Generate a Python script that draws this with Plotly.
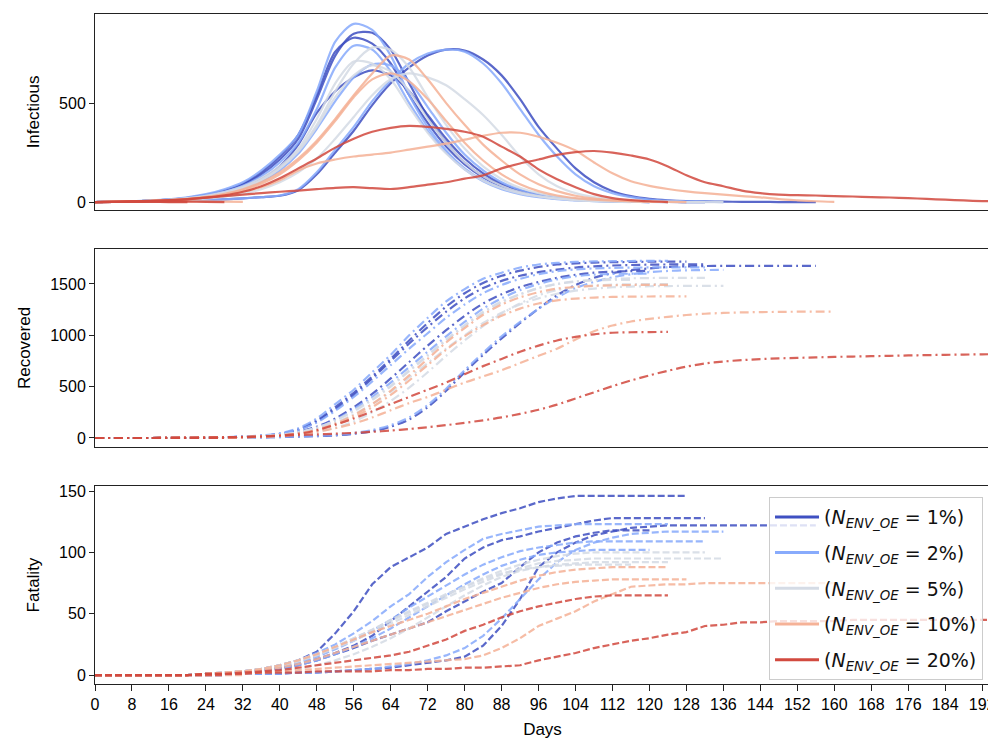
import plotly.graph_objects as go

# ---------------- data ----------------
DAYS = list(range(0, 201, 4))          # sample days, every 4 days
LEVELS = ["1%", "2%", "5%", "10%", "20%"]
COLORS = ["#3f50c2", "#88abfc", "#d5dbe5", "#f5b297", "#d24a3f"]
X_TICKS = list(range(0, 193, 8))

# ---- Infectious ----
INF_1A = [0,2,4,7,12,20,34,55,88,140,215,320,520,740,850,855,770,600,430,300,200,130,85,55,35,22,14,9,5,3,2,1,0]
INF_1B = [0,2,4,7,12,21,36,58,92,150,230,340,540,760,830,800,700,540,400,280,190,125,80,50,32,20,12,7,4,2,1,1,0,0]
INF_1C = [0,1,2,3,5,7,10,14,19,25,32,60,140,250,360,490,600,680,740,770,765,720,640,520,380,270,170,100,55,30,16,9,5,3,2,1,1,0,0,0]
INF_1D = [0,2,3,6,10,17,28,45,72,115,180,290,450,560,630,665,640,560,440,320,220,145,92,58,36,22,13,7,4,2,0]
INF_2A = [0,2,4,8,14,24,40,65,100,160,240,340,560,810,900,870,740,540,380,260,170,110,70,45,28,17,10,6,4,2,1,0]
INF_2B = [0,2,4,7,12,20,33,52,82,130,200,300,470,680,790,770,660,500,360,250,165,105,65,40,25,15,9,5,3,2,1,1,0,0]
INF_2C = [0,1,2,3,5,7,10,14,19,25,33,65,150,265,380,510,615,700,750,770,760,700,600,470,340,230,140,80,45,25,13,7,4,2,0]
INF_2D = [0,2,3,6,10,16,26,42,66,105,160,245,370,510,630,695,690,610,480,350,240,160,100,62,38,23,14,8,4,2,0]
INF_5A = [0,2,3,6,10,16,27,44,70,110,170,260,390,560,700,780,770,680,530,390,270,180,115,72,45,28,17,10,6,3,2,1,0,0]
INF_5B = [0,2,4,7,12,20,32,50,78,120,180,270,420,600,710,700,620,480,350,245,165,108,70,44,28,17,10,6,4,2,1,1,0,0,0]
INF_5C = [0,1,2,4,7,11,17,27,42,65,100,150,220,320,430,540,620,650,630,590,520,440,340,230,140,80,45,25,13,7,3,0]
INF_5D = [0,2,3,6,10,17,28,45,72,112,170,255,380,530,640,690,660,560,420,300,200,130,82,50,30,18,10,5,2,0]
INF_10A = [0,2,4,6,10,16,26,42,65,100,150,220,310,420,540,650,740,720,620,500,390,290,210,140,90,55,32,18,10,5,2,0]
INF_10B = [0,2,3,6,9,15,24,38,60,92,140,210,300,410,530,620,650,610,520,410,300,210,140,90,55,33,20,12,7,4,2,1,0]
INF_10C = [0,1,3,5,9,15,24,36,52,75,110,160,195,215,230,240,250,265,280,295,315,335,350,350,330,300,260,200,145,105,82,66,54,45,38,30,24,15,9,4,1]
INF_10D = [0,1,2,3,3,4,3,2,1]
INF_20A = [0,1,3,5,9,14,22,34,52,80,120,170,220,275,320,355,375,385,380,370,355,330,280,230,165,115,75,40,20,10,4,0]
INF_20B = [0,1,2,3,2,2,1,0]
INF_20C = [0,1,3,6,10,15,22,30,38,45,52,58,65,72,75,70,66,75,88,100,118,135,170,195,215,238,252,258,250,235,215,180,135,100,80,58,45,38,35,33,30,28,25,23,20,16,12,8,5,3,2]
INF_20D = [0,1,1,1,0,0]

# ---- Recovered ----
REC_1A = [0,0,0,0,1,2,4,7,12,22,40,85,170,300,440,600,770,950,1120,1280,1410,1510,1580,1630,1665,1690,1700,1708,1712,1715,1717,1718,1718]
REC_1B = [0,0,0,0,1,2,4,7,12,22,40,80,160,280,420,580,750,920,1080,1230,1360,1460,1530,1580,1615,1640,1660,1672,1680,1685,1688,1690,1690,1690]
REC_1C = [0,0,0,0,0,1,2,3,4,6,9,13,18,25,40,65,110,180,300,460,640,810,970,1120,1260,1390,1490,1560,1605,1635,1652,1665,1672,1675,1677,1677,1677,1677,1677,1677]
REC_1D = [0,0,0,0,1,2,3,6,10,18,32,60,110,190,300,430,580,740,900,1050,1190,1310,1400,1470,1520,1560,1590,1610,1620,1625,1628]
REC_2A = [0,0,0,0,1,2,4,8,14,25,45,95,190,330,470,640,810,1000,1170,1330,1450,1550,1610,1660,1690,1705,1715,1720,1722,1724,1725,1725]
REC_2B = [0,0,0,0,1,2,4,7,12,21,38,75,150,265,400,550,710,870,1020,1170,1300,1410,1490,1550,1595,1625,1642,1652,1657,1660,1661,1662,1662,1662]
REC_2C = [0,0,0,0,0,1,2,3,4,6,10,14,20,30,48,78,125,200,320,480,660,830,990,1130,1260,1370,1460,1520,1565,1595,1615,1627,1633,1636,1637]
REC_2D = [0,0,0,0,1,2,3,6,10,17,30,55,100,175,280,400,540,690,840,990,1130,1260,1360,1440,1500,1545,1575,1590,1598,1600,1600]
REC_5A = [0,0,0,0,1,2,3,6,10,17,30,55,100,170,265,380,510,660,810,960,1100,1230,1330,1400,1460,1500,1525,1540,1550,1555,1558,1560,1560,1560]
REC_5B = [0,0,0,0,1,2,3,6,10,16,28,50,90,150,230,330,450,590,730,870,1000,1120,1220,1300,1360,1405,1435,1455,1468,1475,1478,1480,1481,1481,1481]
REC_5C = [0,0,0,0,0,1,2,4,7,12,20,35,60,100,160,250,360,490,640,800,950,1090,1210,1310,1390,1440,1470,1485,1493,1497,1499,1500]
REC_5D = [0,0,0,0,1,2,3,6,10,17,30,56,100,170,260,370,500,650,800,950,1090,1220,1320,1400,1460,1500,1522,1535,1540,1540]
REC_10A = [0,0,0,0,1,2,3,5,8,14,24,44,80,140,220,330,460,610,770,930,1070,1200,1300,1370,1420,1455,1472,1482,1487,1490,1491,1491]
REC_10B = [0,0,0,0,1,2,3,5,8,13,22,40,72,125,200,300,420,560,710,860,990,1100,1190,1260,1310,1340,1358,1368,1374,1377,1378,1379,1379]
REC_10C = [0,0,0,0,0,1,2,4,7,12,20,35,60,95,140,200,270,340,400,470,540,600,660,730,800,870,960,1040,1095,1135,1160,1180,1198,1210,1218,1223,1226,1228,1230,1231,1231]
REC_10D = [0,0,0,0,1,1,2,2,3]
REC_20A = [0,0,0,0,1,2,3,5,8,14,24,40,75,130,190,260,330,400,470,540,620,700,770,840,900,950,985,1010,1025,1030,1032,1033]
REC_20B = [0,0,0,0,1,1,2,2]
REC_20C = [0,0,0,0,1,2,4,7,11,16,22,28,35,42,50,60,72,88,105,125,148,172,200,235,275,325,385,445,505,560,610,655,695,725,745,758,768,775,780,785,790,793,797,800,804,807,810,812,815,817,818]
REC_20D = [0,0,0,0,0,1]

# ---- Fatality ----
FAT_1A = [0,0,0,0,0,0,1,2,3,5,8,12,19,34,52,74,88,96,104,115,121,127,132,136,141,144,146,146,146,146,146,146,146]
FAT_1B = [0,0,0,0,0,0,1,1,2,4,6,9,13,18,24,32,44,56,68,80,95,104,110,113,117,120,123,126,128,128,128,128,128,128]
FAT_1C = [0,0,0,0,0,0,0,0,1,1,1,2,2,3,4,5,6,8,10,12,15,24,40,62,88,100,108,114,117,120,121,122,122,122,122,122,122,122,122,122]
FAT_1D = [0,0,0,0,0,0,1,1,2,3,5,8,12,17,22,28,33,38,43,52,60,68,75,88,100,108,113,116,118,118,118]
FAT_2A = [0,0,0,0,0,0,1,2,3,5,8,12,18,25,34,44,56,66,80,92,102,111,115,118,121,122,123,123,123,123,123,123]
FAT_2B = [0,0,0,0,0,0,1,1,2,4,6,10,15,21,28,36,45,55,64,73,82,90,96,101,104,106,108,109,109,109,109,109,109,109]
FAT_2C = [0,0,0,0,0,0,0,0,1,1,1,2,2,3,4,5,7,9,12,16,22,32,46,62,78,92,102,108,112,115,116,117,117,117,117]
FAT_2D = [0,0,0,0,0,0,1,1,2,3,5,8,12,17,23,30,38,47,56,65,74,82,89,94,98,100,101,102,102,102,102]
FAT_5A = [0,0,0,0,0,0,1,2,3,5,8,12,17,23,30,37,44,51,58,65,72,79,85,90,94,97,99,100,100,100,100,100,100,100]
FAT_5B = [0,0,0,0,0,0,1,2,3,5,7,11,16,22,28,35,42,49,56,63,70,76,82,87,91,93,94,95,95,95,95,95,95,95,95]
FAT_5C = [0,0,0,0,0,0,0,1,1,2,3,5,8,12,17,23,30,38,47,56,65,73,80,85,88,90,91,92,92,92,92,92]
FAT_5D = [0,0,0,0,0,0,1,2,3,5,8,12,17,23,30,37,45,52,59,66,72,78,83,86,88,89,90,90,90,90]
FAT_10A = [0,0,0,0,0,0,1,2,3,5,8,12,17,23,29,35,40,45,50,56,62,67,72,77,81,84,86,87,88,88,88,88]
FAT_10B = [0,0,0,0,0,0,1,2,3,4,6,9,13,18,23,28,33,38,43,48,53,58,63,67,71,74,76,77,78,78,78,78,78]
FAT_10C = [0,0,0,0,0,0,0,1,1,2,3,4,5,6,7,8,9,10,11,12,13,16,22,30,40,46,52,60,66,72,73,74,74,75,75,75,75,75,75,75,75]
FAT_10D = [0,0,0,0,0,0,0,0,0]
FAT_20A = [0,0,0,0,0,0,1,1,2,3,4,6,8,10,12,14,16,19,24,29,36,41,47,52,56,59,62,64,65,65,65,65]
FAT_20B = [0,0,0,0,0,0,0,0]
FAT_20C = [0,0,0,0,0,0,1,1,1,2,2,2,3,3,3,3,4,4,5,5,6,6,7,8,12,15,18,22,25,28,30,33,35,40,41,43,43,44,44,44,44,45,45,45,45,45,45,45,45,45,45]
FAT_20D = [0,0,0,0,0,0]

# runs grouped by level (built from the named lists above)
RUNS = [
    [(INF_1A, REC_1A, FAT_1A), (INF_1B, REC_1B, FAT_1B), (INF_1C, REC_1C, FAT_1C), (INF_1D, REC_1D, FAT_1D)],
    [(INF_2A, REC_2A, FAT_2A), (INF_2B, REC_2B, FAT_2B), (INF_2C, REC_2C, FAT_2C), (INF_2D, REC_2D, FAT_2D)],
    [(INF_5A, REC_5A, FAT_5A), (INF_5B, REC_5B, FAT_5B), (INF_5C, REC_5C, FAT_5C), (INF_5D, REC_5D, FAT_5D)],
    [(INF_10A, REC_10A, FAT_10A), (INF_10B, REC_10B, FAT_10B), (INF_10C, REC_10C, FAT_10C), (INF_10D, REC_10D, FAT_10D)],
    [(INF_20A, REC_20A, FAT_20A), (INF_20B, REC_20B, FAT_20B), (INF_20C, REC_20C, FAT_20C), (INF_20D, REC_20D, FAT_20D)],
]

# ---------------- figure ----------------
fig = go.Figure()
DASHES = ["solid", "9px,4px,2px,4px", "7px,3px"]
SHAPES = ["spline", "spline", "linear"]
AXES = [("x", "y"), ("x2", "y2"), ("x3", "y3")]
LW = 2.2

for li, runs in enumerate(RUNS):
    for run in runs:
        for pi, vals in enumerate(run):
            fig.add_trace(go.Scatter(
                x=DAYS[:len(vals)], y=vals, mode="lines",
                line=dict(color=COLORS[li], width=LW, dash=DASHES[pi],
                          shape=SHAPES[pi], smoothing=0.8),
                opacity=0.86, showlegend=False, hoverinfo="skip",
                xaxis=AXES[pi][0], yaxis=AXES[pi][1]))

for li, lev in enumerate(LEVELS):
    fig.add_trace(go.Scatter(
        x=[None], y=[None], mode="lines",
        line=dict(color=COLORS[li], width=3),
        name="(<i>N</i><sub><i>ENV_OE</i></sub> = " + lev + ")",
        legendgroup="g%d" % li,
        xaxis="x3", yaxis="y3", showlegend=True))

XR = [0, 193.7]
common_x = dict(range=XR, showline=True, mirror=True, linecolor="#222", linewidth=1,
                showgrid=False, zeroline=False)
common_y = dict(showline=True, linecolor="#222", linewidth=1, showgrid=False, zeroline=False,
                ticks="outside", ticklen=5, tickcolor="#222", tickfont=dict(size=16))

# the page adds an 8px body margin, so the figure is 8px smaller and shifted
fig.update_layout(
    width=988, height=732,
    margin=dict(l=87, r=0, t=6, b=56),
    paper_bgcolor="white", plot_bgcolor="white",
    font=dict(family="Liberation Sans, Arial, sans-serif", size=16, color="black"),
    showlegend=True,
    legend=dict(x=0.9922, y=0.279, xanchor="right", yanchor="top",
                bgcolor="rgba(255,255,255,0.8)", bordercolor="#cccccc", borderwidth=1,
                font=dict(family="DejaVu Sans", size=19, color="#111"),
                itemwidth=44, tracegroupgap=8, traceorder="grouped"),
    xaxis=dict(domain=[0, 1], anchor="y", showticklabels=False, ticks="", **common_x),
    xaxis2=dict(domain=[0, 1], anchor="y2", showticklabels=False, ticks="", **common_x),
    xaxis3=dict(domain=[0, 1], anchor="y3", tickvals=X_TICKS, ticks="outside", ticklen=6,
                tickcolor="#222", tickfont=dict(size=16), ticklabeloverflow="allow",
                title=dict(text="Days", font=dict(size=17), standoff=10), **common_x),
    yaxis=dict(domain=[0.7075, 1.0], anchor="x", range=[-40, 950], tickvals=[0, 500],
               title=dict(text="Infectious", font=dict(size=17)), **common_y),
    yaxis2=dict(domain=[0.3537, 0.6493], anchor="x2", range=[-88, 1841],
                tickvals=[0, 500, 1000, 1500],
                title=dict(text="Recovered", font=dict(size=17)), **common_y),
    yaxis3=dict(domain=[0.0, 0.2955], anchor="x3", range=[-7.3, 154.1],
                tickvals=[0, 50, 100, 150],
                title=dict(text="Fatality", font=dict(size=17)), **common_y),
)

fig.write_html("out.html")
